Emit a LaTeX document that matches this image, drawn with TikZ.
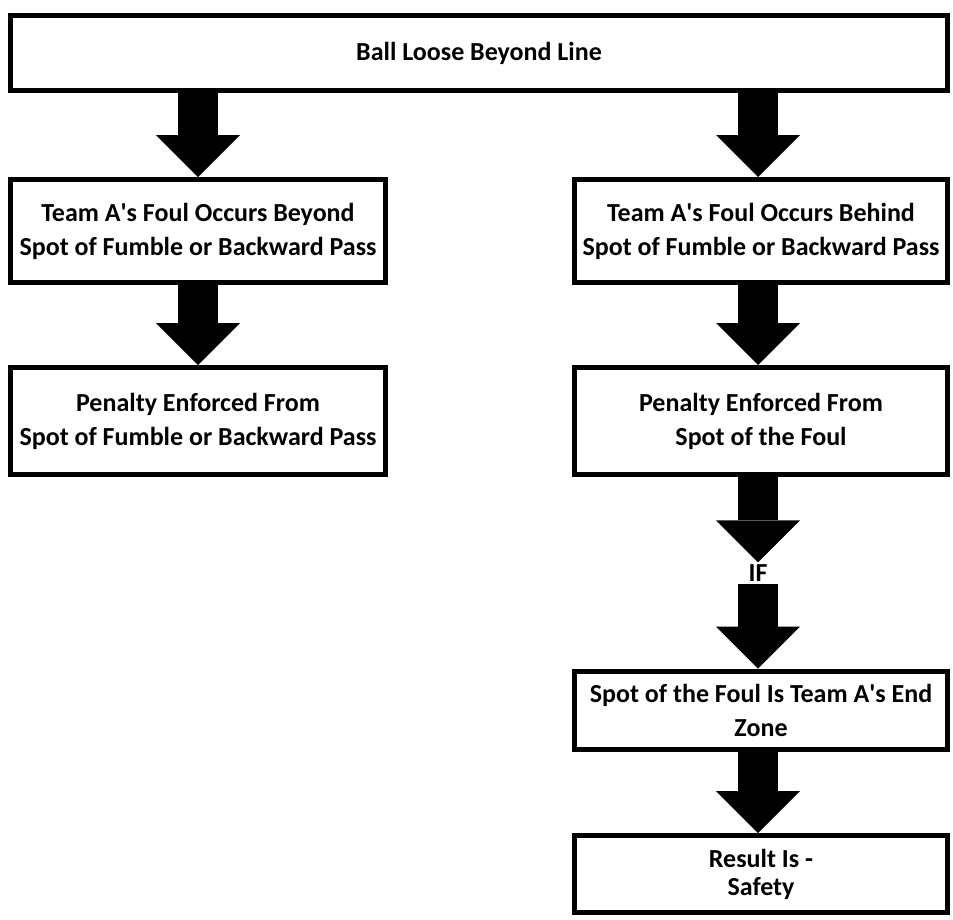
\documentclass[tikz,border=0pt]{standalone}
\usepackage{fontspec}
\setmainfont{Carlito}
\usetikzlibrary{arrows.meta}
\newcommand{\apos}{\textquotesingle}
\tikzset{
  caixa/.style={draw, line width=5pt, align=center, inner sep=0pt,
    font=\bfseries\fontsize{26}{34}\selectfont},
  seta/.style={line width=40pt, -{Triangle[width=84pt,length=42pt,line width=0pt]}},
}
\begin{document}
\begin{tikzpicture}[x=1pt,y=-1pt]
	\useasboundingbox (0,0) rectangle (953,919);
	\node[caixa, minimum width=937pt, minimum height=75pt] (bola) at (479,53) {Ball Loose Beyond Line};		% topo

	% coluna esquerda
	\node[caixa, minimum width=375pt, minimum height=103pt] (beyond) at (198,231) {Team A\apos s Foul Occurs Beyond\\Spot of Fumble or Backward Pass};
	\node[caixa, minimum width=375pt, minimum height=107pt] (penfumble) at (198,421) {Penalty Enforced From\\Spot of Fumble or Backward Pass};
	% coluna direita
	\node[caixa, minimum width=373pt, minimum height=103pt] (behind) at (761,231) {Team A\apos s Foul Occurs Behind\\Spot of Fumble or Backward Pass};
	\node[caixa, minimum width=373pt, minimum height=107pt] (penfoul) at (761,421) {Penalty Enforced From\\Spot of the Foul};
	\node[font=\bfseries\fontsize{26}{34}\selectfont, inner sep=2pt] (se) at (758,573) {IF};
	\node[caixa, minimum width=373pt, minimum height=78pt] (endzone) at (761,710) {Spot of the Foul Is Team A\apos s End\\Zone};
	\node[caixa, minimum width=373pt, minimum height=77pt] (safety) at (761,874) {Result Is -\\[-6pt]Safety};

	% setas
	\draw[seta] (bola.south -| beyond.north) -- (beyond.north);
	\draw[seta] (beyond.south) -- (penfumble.north);
	\draw[seta] (bola.south -| se.north) -- (se.north |- behind.north);
	\draw[seta] (behind.south -| se.north) -- (se.north |- penfoul.north);
	\draw[seta] (penfoul.south -| se.north) -- (se.north);
	\draw[seta] (se.south) -- (se.south |- endzone.north);
	\draw[seta] (endzone.south -| se.north) -- (se.north |- safety.north);
\end{tikzpicture}
\end{document}
